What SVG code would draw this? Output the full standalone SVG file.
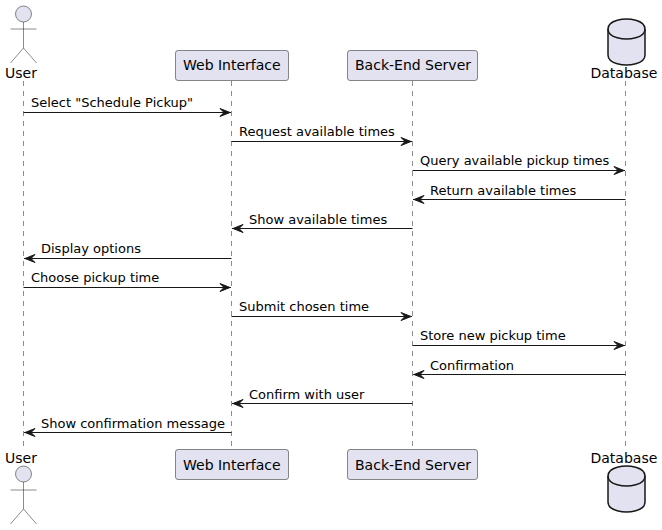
<svg xmlns="http://www.w3.org/2000/svg" width="662" height="530" viewBox="0 0 662 530">
<style>
text{font-family:"DejaVu Sans",sans-serif;fill:#000}
.n{font-size:14px}
.m{font-size:13px}
.life{stroke:#181818;stroke-width:.5;stroke-dasharray:5 5;fill:none}
.box{fill:#E2E2F0;stroke:#181818;stroke-width:.5}
.act{fill:#E2E2F0;stroke:#181818;stroke-width:.5}
.db{fill:#E2E2F0;stroke:#181818;stroke-width:1.5}
.msg{stroke:#181818;stroke-width:1;fill:none}
</style>
<defs>
<marker id="ar" markerUnits="userSpaceOnUse" markerWidth="18" markerHeight="12" refX="11" refY="0" orient="auto" viewBox="-3 -6 18 12"><path d="M0 -4L10 0L0 4L4 0Z" fill="#181818" stroke="#181818" stroke-width="1"/></marker>
</defs>
<g id="lifelines">
<path class="life" d="M23.5 81V446"/>
<path class="life" d="M231.5 81V446"/>
<path class="life" d="M412.5 81V446"/>
<path class="life" d="M625.5 81V446"/>
</g>
<g id="connectors">
<path class="msg" marker-end="url(#ar)" d="M23.5 112.5H231"/>
<path class="msg" marker-end="url(#ar)" d="M231.5 141.5H412"/>
<path class="msg" marker-end="url(#ar)" d="M412.5 170.5H625"/>
<path class="msg" marker-end="url(#ar)" d="M625.5 199.5H413"/>
<path class="msg" marker-end="url(#ar)" d="M412.5 228.5H232"/>
<path class="msg" marker-end="url(#ar)" d="M231.5 258.5H24"/>
<path class="msg" marker-end="url(#ar)" d="M23.5 287.5H231"/>
<path class="msg" marker-end="url(#ar)" d="M231.5 316.5H412"/>
<path class="msg" marker-end="url(#ar)" d="M412.5 345.5H625"/>
<path class="msg" marker-end="url(#ar)" d="M625.5 374.5H413"/>
<path class="msg" marker-end="url(#ar)" d="M412.5 403.5H232"/>
<path class="msg" marker-end="url(#ar)" d="M231.5 432.5H24"/>
</g>
<g id="labels">
<text class="m" x="31" y="107">Select "Schedule Pickup"</text>
<text class="m" x="239" y="136">Request available times</text>
<text class="m" x="420" y="165">Query available pickup times</text>
<text class="m" x="430" y="195">Return available times</text>
<text class="m" x="249" y="224">Show available times</text>
<text class="m" x="41" y="253">Display options</text>
<text class="m" x="31" y="282">Choose pickup time</text>
<text class="m" x="239" y="311">Submit chosen time</text>
<text class="m" x="420" y="340">Store new pickup time</text>
<text class="m" x="430" y="370">Confirmation</text>
<text class="m" x="249" y="399">Confirm with user</text>
<text class="m" x="41" y="428">Show confirmation message</text>
</g>
<g id="user-top">
<circle class="act" cx="23.5" cy="14" r="8"/>
<path class="act" d="M23.5 22V48M10.5 29H36.5M23.5 48L10.5 63M23.5 48L36.5 63"/>
<text class="n" x="5" y="78">User</text>
</g>
<g id="web-top">
<rect class="box" x="175.5" y="50.5" width="113" height="30" rx="2.5"/>
<text class="n" x="183" y="70">Web Interface</text>
</g>
<g id="server-top">
<rect class="box" x="347.5" y="50.5" width="130" height="30" rx="2.5"/>
<text class="n" x="355" y="70">Back-End Server</text>
</g>
<g id="db-top">
<path class="db" d="M608 29C608 19 626.5 19 626.5 19C626.5 19 645 19 645 29V55C645 65 626.5 65 626.5 65C626.5 65 608 65 608 55Z"/>
<path class="db" fill="none" style="fill:none" d="M608 29C608 39 626.5 39 626.5 39C626.5 39 645 39 645 29"/>
<text class="n" x="590.5" y="78">Database</text>
</g>
<g id="user-bottom">
<text class="n" x="5" y="463">User</text>
<circle class="act" cx="23.5" cy="474" r="8"/>
<path class="act" d="M23.5 482V509M10.5 490H36.5M23.5 509L10.5 524M23.5 509L36.5 524"/>
</g>
<g id="web-bottom">
<rect class="box" x="175.5" y="449.5" width="113" height="30" rx="2.5"/>
<text class="n" x="183" y="470">Web Interface</text>
</g>
<g id="server-bottom">
<rect class="box" x="347.5" y="449.5" width="130" height="30" rx="2.5"/>
<text class="n" x="355" y="470">Back-End Server</text>
</g>
<g id="db-bottom">
<text class="n" x="590.5" y="463">Database</text>
<path class="db" d="M608 476C608 466 626.5 466 626.5 466C626.5 466 645 466 645 476V502C645 512 626.5 512 626.5 512C626.5 512 608 512 608 502Z"/>
<path class="db" style="fill:none" d="M608 476C608 486 626.5 486 626.5 486C626.5 486 645 486 645 476"/>
</g>
</svg>
